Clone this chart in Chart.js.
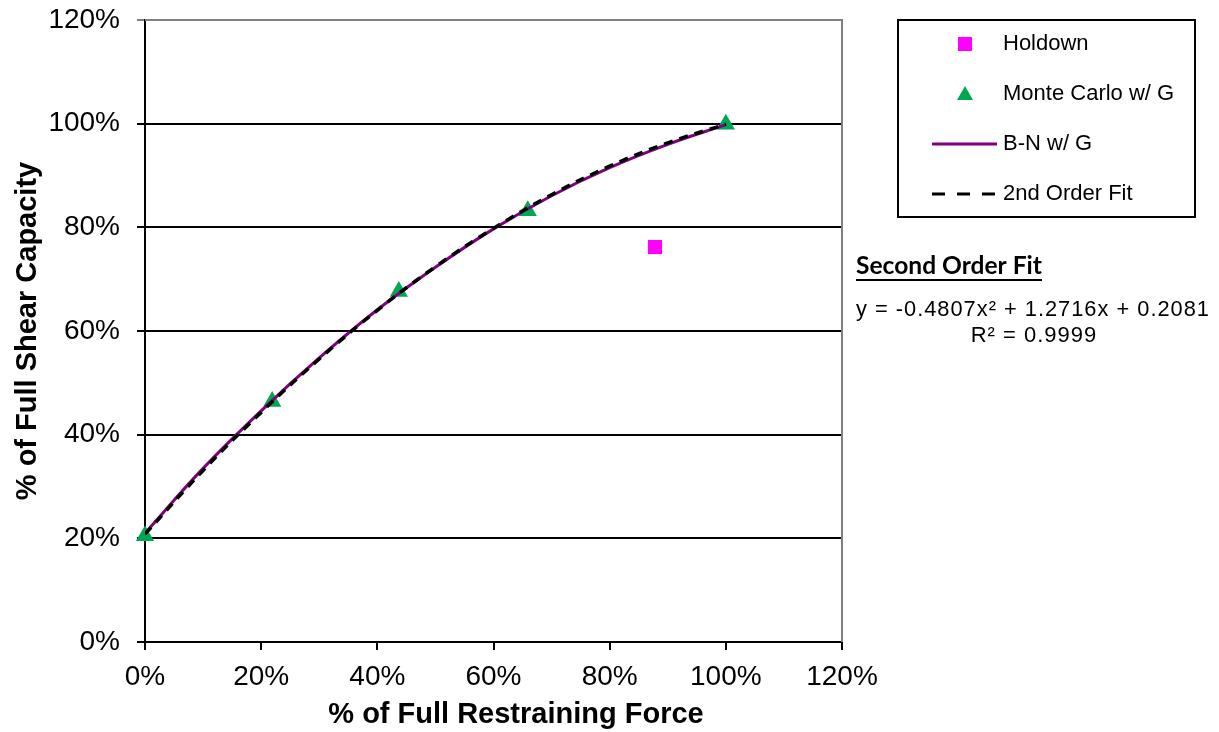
<!DOCTYPE html>
<html lang="en">
<head>
  <meta charset="UTF-8">
  <title>Shear Capacity vs Restraining Force</title>
  <script src="https://cdn.jsdelivr.net/npm/chart.js"></script>
  <style>
    body { margin: 0; background: #ffffff; }
    #chart { display: block; }
  </style>
</head>
<body>
  <canvas id="chart" width="1219" height="732"></canvas>
  <script>
    // Data (fractions, shown as %)
    const holdownX = [0.878];
    const holdownY = [0.762];

    const monteX = [0, 0.219, 0.437, 0.659, 1.0];
    const monteY = [0.205, 0.464, 0.676, 0.832, 0.999];

    const bnX = [0, 0.1, 0.2, 0.3, 0.4, 0.5, 0.6, 0.7, 0.8, 0.9, 1.0];
    const bnY = [0.210, 0.335, 0.446, 0.548, 0.641, 0.723, 0.797, 0.861, 0.915, 0.960, 0.998];

    const fitX = [0, 0.1, 0.2, 0.3, 0.4, 0.5, 0.6, 0.7, 0.8, 0.9, 1.0];
    const fitY = [0.208, 0.331, 0.443, 0.546, 0.640, 0.724, 0.798, 0.863, 0.918, 0.963, 0.999];

    const tickValues = [0, 0.2, 0.4, 0.6, 0.8, 1.0, 1.2];

    const pts = (xs, ys) => xs.map((x, i) => ({ x: x, y: ys[i] }));
    const pct = v => Math.round(v * 100) + '%';

    const FONT = "'Liberation Sans', Arial, sans-serif";

    // legend box, x title + fit equation, drawn after the chart
    const sidePanel = {
      id: 'sidePanel',
      afterDraw(chart) {
        const ctx = chart.ctx;
        const area = chart.chartArea;
        ctx.save();

        // gray top / right border of plot
        ctx.strokeStyle = '#808080';
        ctx.lineWidth = 2;
        ctx.beginPath();
        ctx.moveTo(area.left, area.top);
        ctx.lineTo(area.right, area.top);
        ctx.lineTo(area.right, area.bottom);
        ctx.stroke();

        // x axis title (sits a bit right of the plot centre in the original)
        ctx.fillStyle = '#000';
        ctx.font = 'bold 29px ' + FONT;
        ctx.textAlign = 'center';
        ctx.textBaseline = 'middle';
        ctx.fillText('% of Full Restraining Force', 516, 715);

        // legend box
        ctx.strokeStyle = '#000';
        ctx.lineWidth = 2;
        ctx.strokeRect(898, 20, 297, 197);

        const rows = [44, 94, 144, 194];
        const ds = chart.data.datasets;
        ctx.font = '22px ' + FONT;
        ctx.textAlign = 'left';

        // Holdown square
        ctx.fillStyle = ds[0].backgroundColor;
        ctx.fillRect(958, rows[0] - 7, 14, 14);
        // Monte Carlo triangle
        ctx.fillStyle = ds[1].backgroundColor;
        ctx.beginPath();
        ctx.moveTo(965, rows[1] - 8);
        ctx.lineTo(973, rows[1] + 6);
        ctx.lineTo(957, rows[1] + 6);
        ctx.closePath();
        ctx.fill();
        // B-N line
        ctx.strokeStyle = ds[2].borderColor;
        ctx.lineWidth = 3;
        ctx.beginPath();
        ctx.moveTo(932, rows[2]);
        ctx.lineTo(997, rows[2]);
        ctx.stroke();
        // Fit dashed
        ctx.strokeStyle = ds[3].borderColor;
        ctx.lineWidth = 3;
        ctx.setLineDash([13, 12]);
        ctx.beginPath();
        ctx.moveTo(932, rows[3]);
        ctx.lineTo(997, rows[3]);
        ctx.stroke();
        ctx.setLineDash([]);

        ctx.fillStyle = '#000';
        ctx.fillText(ds[0].label, 1003, rows[0]);
        ctx.fillText(ds[1].label, 1003, rows[1]);
        ctx.fillText(ds[2].label, 1003, rows[2]);
        ctx.fillText(ds[3].label, 1003, rows[3]);

        // fit equation
        ctx.font = "bold 25px Lato, 'Open Sans', sans-serif";
        ctx.fillText('Second Order Fit', 856, 266, 186);
        ctx.fillRect(856, 279, 186, 2);

        ctx.font = '22px ' + FONT;
        ctx.letterSpacing = '1px';
        ctx.fillText('y = -0.4807x² + 1.2716x + 0.2081', 856, 310, 354);
        ctx.textAlign = 'center';
        ctx.fillText('R² = 0.9999', 1034, 336);

        ctx.restore();
      }
    };

    new Chart(document.getElementById('chart'), {
      type: 'scatter',
      data: {
        datasets: [
          {
            label: 'Holdown',
            data: pts(holdownX, holdownY),
            pointStyle: 'rect',
            pointRadius: 10,
            backgroundColor: '#ff00ff',
            borderColor: '#ff00ff',
            borderWidth: 0,
            clip: false,
            order: 3
          },
          {
            label: 'Monte Carlo w/ G',
            data: pts(monteX, monteY),
            pointStyle: 'triangle',
            pointRadius: 10.5,
            backgroundColor: '#00a651',
            borderColor: '#00a651',
            borderWidth: 0,
            clip: false,
            order: 3
          },
          {
            label: 'B-N w/ G',
            type: 'line',
            data: pts(bnX, bnY),
            showLine: true,
            borderColor: '#800080',
            backgroundColor: '#800080',
            borderWidth: 3,
            pointRadius: 0,
            tension: 0.4,
            fill: false,
            order: 2
          },
          {
            label: '2nd Order Fit',
            type: 'line',
            data: pts(fitX, fitY),
            showLine: true,
            borderColor: '#000000',
            backgroundColor: '#000000',
            borderWidth: 3.5,
            borderDash: [9, 7],
            pointRadius: 0,
            tension: 0.4,
            fill: false,
            order: 1
          }
        ]
      },
      options: {
        responsive: false,
        animation: false,
        layout: { autoPadding: false, padding: { top: 20, right: 377, left: 0, bottom: 0 } },
        plugins: {
          legend: { display: false },
          tooltip: { enabled: false }
        },
        scales: {
          x: {
            type: 'linear',
            min: 0,
            max: 1.2,
            afterBuildTicks: s => { s.ticks = tickValues.map(v => ({ value: v })); },
            afterFit: s => { s.height = 90; s.paddingLeft = 0; s.paddingRight = 0; },
            border: { color: '#000', width: 2 },
            grid: { drawOnChartArea: false, drawTicks: true, tickLength: 8, color: '#000', lineWidth: 2 },
            ticks: { callback: pct, color: '#000', padding: 10, font: { family: FONT, size: 28 }, maxRotation: 0 },
            title: { display: false }
          },
          y: {
            type: 'linear',
            min: 0,
            max: 1.2,
            afterBuildTicks: s => { s.ticks = tickValues.map(v => ({ value: v })); },
            afterFit: s => { s.width = 145; s.paddingTop = 0; s.paddingBottom = 0; },
            border: { color: '#000', width: 2 },
            grid: {
              drawTicks: true,
              tickLength: 8,
              lineWidth: 2,
              color: c => (c.tick && c.tick.value >= 1.19) ? '#808080' : '#000'
            },
            ticks: { callback: pct, color: '#000', padding: 17, font: { family: FONT, size: 28 } },
            title: {
              display: true,
              text: '% of Full Shear Capacity',
              color: '#000',
              font: { family: FONT, size: 29, weight: 'bold' },
              padding: { top: 11, bottom: 0 }
            }
          }
        }
      },
      plugins: [sidePanel]
    });
  </script>
</body>
</html>
